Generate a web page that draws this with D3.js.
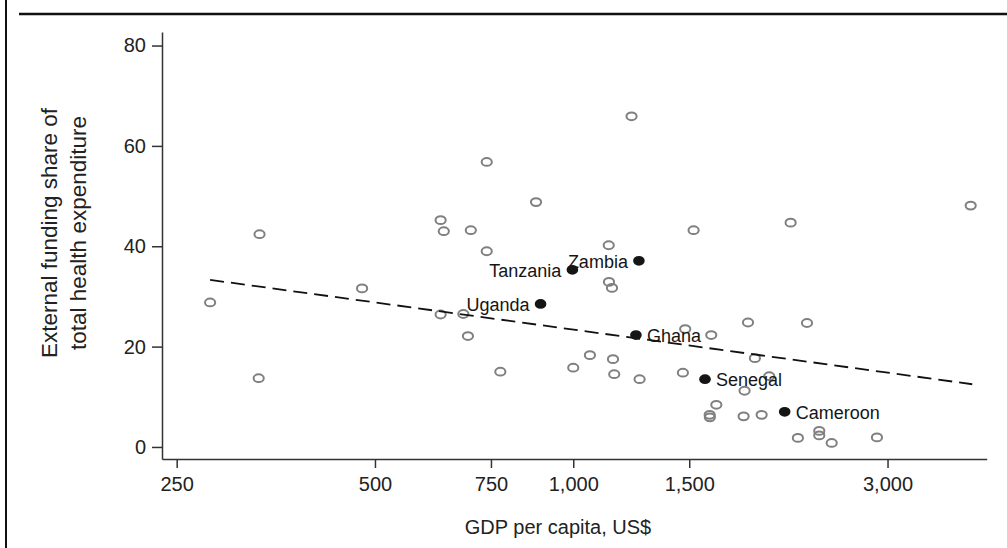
<!DOCTYPE html>
<html>
<head>
<meta charset="utf-8">
<script src="https://cdn.jsdelivr.net/npm/d3@7"></script>
<style>
  body { margin: 0; background: #fff; }
  svg { display: block; font-family: "Liberation Sans", Arial, sans-serif; }
</style>
</head>
<body>
<svg id="chart" width="1007" height="548"></svg>
<script>
// other countries (hollow markers)
var gdp   = [281, 333, 334, 478, 629, 681, 692, 775, 1000, 1060, 739, 629, 636, 699, 739,
             878, 1226, 1132, 1133, 1145, 1149, 1154, 1261, 1467, 1479, 1523, 1620, 1649,
             1611, 1612, 1820, 1814, 1842, 1887, 1932, 1984, 2138, 2193, 2264, 2363, 2363,
             2468, 2891, 4012];
var share = [28.8, 13.7, 42.4, 31.6, 26.4, 26.5, 22.1, 15.0, 15.8, 18.3, 56.8, 45.2, 43.0, 43.2, 39.0,
             48.8, 65.9, 40.2, 32.9, 31.7, 17.5, 14.5, 13.5, 14.8, 23.5, 43.2, 22.3, 8.4,
             6.4, 5.9, 11.2, 6.1, 24.8, 17.7, 6.4, 14.1, 44.7, 1.8, 24.7, 3.2, 2.3,
             0.8, 1.9, 48.1];

// highlighted countries
var hiNames = ["Tanzania", "Zambia", "Uganda", "Ghana", "Senegal", "Cameroon"];
var hiGdp   = [997, 1258, 892, 1245, 1585, 2094];
var hiShare = [35.3, 37.1, 28.5, 22.3, 13.5, 7.0];

// fitted line (log-linear), end points
var fitGdp   = [281, 4034];
var fitShare = [33.3, 12.5];

var xTicks = [250, 500, 750, 1000, 1500, 3000];
var yTicks = [0, 20, 40, 60, 80];

window.addEventListener("load", makeChart);
function makeChart() {
    var svg = d3.select("#chart");

    var scX = d3.scaleLog().domain([237.5, 4243]).range([162, 986.7]),
        scY = d3.scaleLinear().domain([-2.4, 82.7]).range([459, 32]);

    // frame lines of the figure panel
    svg.append("line").attr("x1", 6).attr("x2", 6).attr("y1", 0).attr("y2", 548)
        .attr("stroke", "#111").attr("stroke-width", 2);
    svg.append("line").attr("x1", 19).attr("x2", 1007).attr("y1", 14).attr("y2", 14)
        .attr("stroke", "#111").attr("stroke-width", 2.5);

    // axes
    var ax = svg.append("g").attr("transform", "translate(0,459)")
        .call(d3.axisBottom(scX).tickValues(xTicks).tickFormat(d3.format(","))
              .tickSize(9).tickSizeOuter(0).tickPadding(9));
    var ay = svg.append("g").attr("transform", "translate(162,0)")
        .call(d3.axisLeft(scY).tickValues(yTicks).tickSize(10).tickSizeOuter(0).tickPadding(6));

    [ax, ay].forEach(function(g) {
        g.select(".domain").attr("stroke", "#333").attr("stroke-width", 1.5);
        g.selectAll(".tick line").attr("stroke", "#333").attr("stroke-width", 1.5);
        g.selectAll(".tick text").attr("fill", "#222").style("font-size", "20px")
            .style("font-family", "Liberation Sans, Arial, sans-serif");
    });

    // axis titles
    svg.append("text").attr("x", 558).attr("y", 534).attr("text-anchor", "middle")
        .attr("fill", "#222").style("font-size", "20px").text("GDP per capita, US$");

    var yl = svg.append("text").attr("transform", "translate(57,233) rotate(-90)")
        .attr("text-anchor", "middle").attr("fill", "#222").style("font-size", "22.5px");
    yl.append("tspan").attr("x", 0).attr("y", 0).text("External funding share of");
    yl.append("tspan").attr("x", 0).attr("y", 29).text("total health expenditure");

    // hollow markers
    var others = d3.zip(gdp, share);
    svg.append("g").selectAll("ellipse").data(others).enter().append("ellipse")
        .attr("cx", d=>scX(d[0])).attr("cy", d=>scY(d[1]))
        .attr("rx", 5.1).attr("ry", 3.9)
        .attr("fill", "none").attr("stroke", "#808080").attr("stroke-width", 2);

    // fitted line
    var fit = d3.zip(fitGdp, fitShare);
    svg.append("path").datum(fit)
        .attr("d", d3.line().x(d=>scX(d[0])).y(d=>scY(d[1])))
        .attr("fill", "none").attr("stroke", "#111").attr("stroke-width", 1.8)
        .attr("stroke-dasharray", "14,7");

    // highlighted countries
    var hi = d3.zip(hiNames, hiGdp, hiShare);
    svg.append("g").selectAll("ellipse").data(hi).enter().append("ellipse")
        .attr("cx", d=>scX(d[1])).attr("cy", d=>scY(d[2]))
        .attr("rx", 5.8).attr("ry", 4.9).attr("fill", "#151515");

    var leftSide = ["Tanzania", "Zambia", "Uganda"];
    svg.append("g").selectAll("text").data(hi).enter().append("text")
        .attr("x", d=>scX(d[1]) + (leftSide.indexOf(d[0]) >= 0 ? -11 : 11))
        .attr("y", d=>scY(d[2]) + 7)
        .attr("text-anchor", d=>leftSide.indexOf(d[0]) >= 0 ? "end" : "start")
        .attr("fill", "#151515").style("font-size", "18px")
        .text(d=>d[0]);
}
</script>
</body>
</html>
